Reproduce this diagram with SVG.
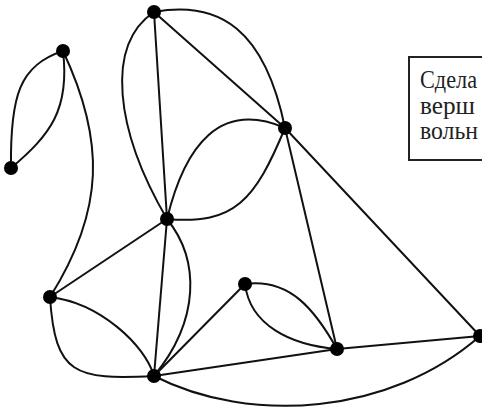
<svg xmlns="http://www.w3.org/2000/svg" width="482" height="407" viewBox="0 0 482 407">
<style>
.e{fill:none;stroke:#111;stroke-width:2;stroke-linecap:round}
.n{fill:#000}
.t{font-family:"Liberation Serif",serif;font-size:25px;fill:#222}
</style>
<rect x="0" y="0" width="482" height="407" fill="#fff"/>
<g id="connectors">
<path class="e" d="M63,51 C20,65 10,95 11,168"/>
<path class="e" d="M63,51 C70,110 50,135 11,168"/>
<path class="e" d="M63,51 C105,140 105,210 50,297"/>
<path class="e" d="M154,12 L167,219"/>
<path class="e" d="M154,12 L285,128"/>
<path class="e" d="M154,12 C105,45 115,130 167,219"/>
<path class="e" d="M154,12 C220,0 265,30 285,128"/>
<path class="e" d="M167,219 C185,145 220,100 285,128"/>
<path class="e" d="M285,128 C255,200 235,225 167,219"/>
<path class="e" d="M167,219 L50,297"/>
<path class="e" d="M167,219 L154,376"/>
<path class="e" d="M167,219 C200,260 200,320 154,376"/>
<path class="e" d="M50,297 C55,375 75,380 154,376"/>
<path class="e" d="M50,297 C100,303 145,345 154,376"/>
<path class="e" d="M154,376 L245,284"/>
<path class="e" d="M154,376 L337,349"/>
<path class="e" d="M154,376 C250,425 390,415 480,336"/>
<path class="e" d="M245,284 C290,278 315,310 337,349"/>
<path class="e" d="M245,284 C250,325 290,345 337,349"/>
<path class="e" d="M285,128 L337,349"/>
<path class="e" d="M285,128 L480,336"/>
<path class="e" d="M337,349 L480,336"/>
</g>
<g id="nA"><circle class="n" cx="154" cy="12" r="7"/></g>
<g id="nB"><circle class="n" cx="63" cy="51" r="7"/></g>
<g id="nC"><circle class="n" cx="11" cy="168" r="7"/></g>
<g id="nD"><circle class="n" cx="285" cy="128" r="7"/></g>
<g id="nE"><circle class="n" cx="167" cy="219" r="7"/></g>
<g id="nF"><circle class="n" cx="50" cy="297" r="7"/></g>
<g id="nG"><circle class="n" cx="245" cy="284" r="7"/></g>
<g id="nH"><circle class="n" cx="337" cy="349" r="7"/></g>
<g id="nI"><circle class="n" cx="480" cy="336" r="7"/></g>
<g id="nJ"><circle class="n" cx="154" cy="376" r="7"/></g>
<g id="note">
<rect x="409" y="57" width="90" height="103" fill="#fff" stroke="#222" stroke-width="2"/>
<text class="t" x="420" y="88" textLength="57" lengthAdjust="spacingAndGlyphs">Сдела</text>
<text class="t" x="420" y="114" textLength="55" lengthAdjust="spacingAndGlyphs">верш</text>
<text class="t" x="420" y="139" textLength="58" lengthAdjust="spacingAndGlyphs">вольн</text>
</g>
</svg>
